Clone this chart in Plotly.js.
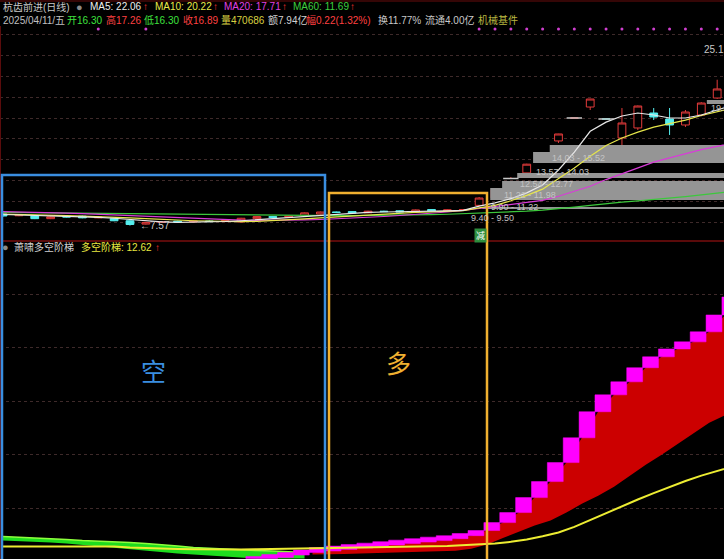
<!DOCTYPE html>
<html><head><meta charset="utf-8">
<script src="https://cdn.plot.ly/plotly-3.0.1.min.js"></script>
<style>html,body{margin:0;padding:0;background:#000;overflow:hidden}#chart{width:724px;height:559px}</style>
</head><body><div id="chart"></div>
<script>
// ---------- price panel (bars 0..45) ----------
const openP  = [8.96,8.75,8.72,8.40,8.70,8.70,8.50,8.40,8.15,7.75,7.95,8.10,8.00,8.12,8.05,8.00,8.40,8.65,8.55,8.75,8.95,9.20,9.25,9.10,9.30,9.35,9.20,9.50,9.35,9.45,10.00,10.90,13.23,13.90,15.20,17.74,20.50,21.82,20.38,18.10,19.30,21.10,20.38,19.66,20.86,22.90];
const highP  = [9.05,8.95,8.80,8.70,8.75,8.76,8.65,8.45,8.20,8.00,8.10,8.15,8.15,8.20,8.20,8.50,8.70,8.70,8.75,9.15,9.25,9.25,9.30,9.35,9.35,9.40,9.50,9.55,9.50,9.55,11.00,12.00,13.40,15.00,16.35,18.60,20.50,22.80,20.38,21.70,22.00,21.70,21.70,21.46,22.40,25.10];
const lowP   = [8.65,8.70,8.35,8.35,8.55,8.45,8.45,8.10,7.57,7.70,7.90,7.95,7.95,8.00,8.00,7.95,8.35,8.50,8.50,8.70,8.90,9.10,9.05,9.05,9.20,9.15,9.15,9.30,9.30,9.40,9.90,10.80,13.23,13.90,15.10,17.50,20.50,21.46,20.38,17.25,19.06,20.26,18.46,19.42,20.70,22.80];
const closeP = [8.72,8.85,8.40,8.62,8.60,8.50,8.60,8.15,7.70,7.95,8.05,8.00,8.10,8.05,8.15,8.45,8.65,8.55,8.70,9.10,9.20,9.15,9.10,9.30,9.25,9.20,9.45,9.35,9.45,9.50,10.88,11.90,13.23,14.95,16.30,18.58,20.50,22.78,20.38,19.90,21.94,20.62,19.66,21.22,22.30,23.99];

// moving averages (bars 0..46, last bar only partly on screen)
const ma5  = [8.90,8.85,8.75,8.68,8.62,8.58,8.55,8.45,8.28,8.12,8.02,7.96,7.98,8.02,8.06,8.15,8.28,8.40,8.52,8.68,8.85,8.98,9.08,9.15,9.20,9.22,9.26,9.30,9.34,9.40,9.90,10.30,10.80,11.50,12.45,14.25,16.40,18.90,20.00,20.74,21.10,20.86,20.50,20.50,20.86,21.46,22.06];
const ma10 = [8.95,8.92,8.88,8.82,8.76,8.70,8.65,8.60,8.50,8.40,8.30,8.22,8.15,8.10,8.06,8.05,8.08,8.15,8.25,8.38,8.50,8.62,8.75,8.86,8.95,9.05,9.15,9.22,9.30,9.36,9.70,10.00,10.55,11.20,11.95,13.20,14.50,15.90,17.20,18.10,18.80,19.40,19.80,20.25,20.80,21.25,21.70];
const ma20 = [9.25,9.22,9.18,9.12,9.06,9.00,8.92,8.85,8.76,8.66,8.56,8.47,8.40,8.33,8.27,8.22,8.20,8.20,8.22,8.25,8.30,8.37,8.45,8.55,8.66,8.78,8.90,9.04,9.20,9.38,9.60,9.85,10.10,10.35,10.60,11.10,11.70,12.30,13.10,13.80,14.50,15.20,15.70,16.20,16.70,17.10,17.50];
const ma60 = [9.15,9.13,9.11,9.09,9.07,9.05,9.02,9.00,8.97,8.95,8.92,8.90,8.88,8.86,8.84,8.82,8.80,8.78,8.77,8.76,8.75,8.76,8.77,8.78,8.79,8.80,8.84,8.88,8.93,8.99,9.08,9.15,9.22,9.30,9.42,9.58,9.78,10.00,10.22,10.40,10.55,10.70,10.88,11.05,11.25,11.50,11.69];
const signalFlag = [0,0,0,0,0,0,1,0,0,1,0,0,0,0,0,0,0,0,0,0,0,0,0,0,0,0,0,0,0,0,1,1,1,1,1,1,1,1,1,1,1,1,1,1,1,1,1];

// price gap bands
const gapStart = [30.2,30.7,31.45,32.4,33.4,34.45,44.35];
const gapLow   = [9.56,10.64,12.09,13.29,15.09,16.41,22.18];
const gapHigh  = [9.80,12.09,12.93,13.89,16.41,17.25,22.66];
const gapLabels = ["9.40 - 9.50","9.90 - 11.22","11.22 - 11.98","12.54 - 12.77","13.57 - 14.03","14.03 - 15.52","19.90 - 20.61"];

// ---------- 多空阶梯 indicator (bars 0..46) ----------
const ladderLine = [9.20,9.20,9.20,9.20,9.20,9.20,9.20,9.20,9.15,9.12,9.10,9.08,9.07,9.06,9.06,9.06,9.07,9.08,9.09,9.10,9.11,9.12,9.13,9.15,9.16,9.18,9.19,9.21,9.23,9.26,9.30,9.34,9.42,9.53,9.68,9.86,10.12,10.44,10.78,11.10,11.40,11.70,11.99,12.27,12.52,12.75,12.95];
const N = null;
const bearTop    = [9.67,9.64,9.62,9.58,9.53,9.48,9.46,9.44,9.39,9.34,9.29,9.22,9.15,9.11,9.06,9.04,9.01,8.99,8.97,8.92,N,N,N,N,N,N,N,N,N,N,N,N,N,N,N,N,N,N,N,N,N,N,N,N,N,N,N];
const bearBottom = [9.48,9.46,9.44,9.39,9.34,9.27,9.20,9.13,9.06,8.99,8.92,8.87,8.83,8.78,8.73,8.69,8.64,8.64,8.64,8.64,N,N,N,N,N,N,N,N,N,N,N,N,N,N,N,N,N,N,N,N,N,N,N,N,N,N,N];
const stairTop    = [N,N,N,N,N,N,N,N,N,N,N,N,N,N,N,N,8.73,8.83,8.92,9.04,9.15,9.22,9.29,9.36,9.43,9.50,9.57,9.64,9.71,9.81,9.95,10.32,10.79,11.49,12.24,13.13,14.29,15.51,16.30,16.91,17.57,18.08,18.45,18.78,19.25,20.04,20.88];
const stairBottom = [N,N,N,N,N,N,N,N,N,N,N,N,N,N,N,N,8.64,8.64,8.69,8.80,8.92,8.99,9.06,9.13,9.20,9.27,9.34,9.41,9.48,9.57,9.71,9.95,10.32,10.79,11.49,12.24,13.13,14.29,15.51,16.30,16.91,17.57,18.08,18.45,18.78,19.25,20.04];
const bullBase    = [N,N,N,N,N,N,N,N,N,N,N,N,N,N,N,N,N,N,N,N,8.83,8.83,8.85,8.87,8.89,8.91,8.93,8.95,8.97,9.00,9.10,9.30,9.60,9.90,10.18,10.42,10.79,11.21,11.58,12.00,12.52,13.03,13.50,14.01,14.53,15.00,15.35];

// ---------- header texts ----------
const header1 = [["杭齿前进(日线)","#c8c8c8",2],["MA5: 22.06","#eeeeee",89],["↑","#ff3030",142],["MA10: 20.22","#e8e84a",154],["↑","#ff3030",212],["MA20: 17.71","#e040e0",223],["↑","#ff3030",281],["MA60: 11.69","#3ed03e",292],["↑","#ff3030",349]];
const header2 = [["2025/04/11/五","#c0c0c0",2],["开16.30","#3ee03e",66],["高17.26","#ff4040",105],["低16.30","#3ee03e",143],["收16.89","#ff4040",182],["量470686","#d8d040",220],["额7.94亿","#d0d0d0",267],["幅0.22(1.32%)","#ff4040",305],["换11.77%","#c8c8c8",377],["流通4.00亿","#c8c8c8",424],["机械基件","#b8b840",477]];
const header3 = [["萧啸多空阶梯","#d0d0d0",13],["多空阶梯: 12.62","#e8e840",80],["↑","#ff3030",154]];

const FONT = "Liberation Sans, Noto Sans CJK SC, DejaVu Sans";
const idx = ladderLine.map((_, i) => i);
const idxC = openP.map((_, i) => i);

const traces = [];
// candles
traces.push({type:'candlestick', x:idxC, open:openP, high:highP, low:lowP, close:closeP, xaxis:'x', yaxis:'y',
  increasing:{line:{color:'#e23b3b',width:1}, fillcolor:'#000000'},
  decreasing:{line:{color:'#56eeee',width:1}, fillcolor:'#56eeee'},
  whiskerwidth:0, hoverinfo:'skip'});
// gap bands
const gx = [], gy = [];
gapStart.forEach((s, i) => { gx.push(s, 46.5, 46.5, s, s, null); gy.push(gapLow[i], gapLow[i], gapHigh[i], gapHigh[i], gapLow[i], null); });
traces.push({type:'scatter', x:gx, y:gy, mode:'lines', fill:'toself', fillcolor:'#959595', line:{width:0,color:'#959595'}, xaxis:'x', yaxis:'y', hoverinfo:'skip'});
// MAs
[[ma60,'#3cc83c'],[ma20,'#d83cd8'],[ma10,'#e6e64a'],[ma5,'#e8e8e8']].forEach(([arr,c]) => {
  traces.push({type:'scatter', x:idx, y:arr, mode:'lines', line:{color:c,width:1.2}, xaxis:'x', yaxis:'y', hoverinfo:'skip'});
});
// flat (one-price) bars
const flatX = idxC.filter(i => openP[i] === closeP[i]);
traces.push({type:'scatter', x:flatX, y:flatX.map(i => openP[i]), mode:'markers', marker:{symbol:'line-ew', size:11, line:{width:1.5,color:'#c8c8c8'}}, xaxis:'x', yaxis:'y', hoverinfo:'skip'});
// signal dots along top
const sigX = idx.filter(i => signalFlag[i] === 1);
traces.push({type:'scatter', x:sigX, y:sigX.map(() => 31.2), mode:'markers', marker:{size:3, color:'#d040d0'}, cliponaxis:false, xaxis:'x', yaxis:'y', hoverinfo:'skip'});

// bottom: bear (green) band
const bi = idx.filter(i => bearTop[i] !== null);
traces.push({type:'scatter', x:bi, y:bi.map(i => bearBottom[i]), mode:'lines', line:{width:0,color:'#1edc1e'}, xaxis:'x', yaxis:'y2', hoverinfo:'skip'});
traces.push({type:'scatter', x:bi, y:bi.map(i => bearTop[i]), mode:'lines', fill:'tonexty', fillcolor:'#1edc1e', line:{width:1.5,color:'#8cff3c'}, xaxis:'x', yaxis:'y2', hoverinfo:'skip'});
// bull (red) body
const ri = idx.filter(i => bullBase[i] !== null);
traces.push({type:'scatter', x:ri.map(i => i - 0.5), y:ri.map(i => bullBase[i]), mode:'lines', line:{width:0,color:'#cc0000'}, xaxis:'x', yaxis:'y2', hoverinfo:'skip'});
traces.push({type:'scatter', x:ri.map(i => i - 0.5), y:ri.map(i => stairBottom[i]), mode:'lines', fill:'tonexty', fillcolor:'#cc0000', line:{width:0,color:'#cc0000'}, xaxis:'x', yaxis:'y2', hoverinfo:'skip'});
// magenta ladder steps
const mx = [], my = [];
idx.forEach(i => { if (stairTop[i] !== null) { const a = i - 0.7, b = i + 0.3; mx.push(a, b, b, a, a, null); my.push(stairBottom[i], stairBottom[i], stairTop[i], stairTop[i], stairBottom[i], null); } });
traces.push({type:'scatter', x:mx, y:my, mode:'lines', fill:'toself', fillcolor:'#ff00ff', line:{width:0.5,color:'#ff00ff'}, xaxis:'x', yaxis:'y2', hoverinfo:'skip'});
// yellow ladder line
traces.push({type:'scatter', x:idx, y:ladderLine, mode:'lines', line:{color:'#ecec32',width:2}, xaxis:'x', yaxis:'y2', hoverinfo:'skip'});

// annotations
const W = 724, H = 559;
const ann = [];
function txt(px, py, text, color, size) {
  ann.push({xref:'paper', yref:'paper', x:px/W, y:1-py/H, xanchor:'left', yanchor:'middle', text:text, showarrow:false, borderpad:0, font:{color:color, size:size||10, family:FONT}});
}
header1.forEach(([t,c,x]) => txt(x, 7, t, c));
header2.forEach(([t,c,x]) => txt(x, 20, t, c));
header3.forEach(([t,c,x]) => txt(x, 247, t, c));
txt(75, 7, "●", "#8a8a8a", 11);
txt(1, 247, "●", "#8a8a8a", 11);
// gap labels
const gapLabelPos = [[29.45,8.48],[30.7,9.80],[31.5,11.25],[32.5,12.57],[33.5,14.0],[34.5,15.69],[44.55,21.7]];
gapLabels.forEach((t, i) => ann.push({xref:'x', yref:'y', x:gapLabelPos[i][0], y:gapLabelPos[i][1], xanchor:'left', yanchor:'middle', text:t, showarrow:false, borderpad:0, font:{color:'#c4c4c4', size:9, family:FONT}}));
// low / high marks
let lo = 0, hi = 0;
lowP.forEach((v, i) => { if (v < lowP[lo]) lo = i; });
highP.forEach((v, i) => { if (v > highP[hi]) hi = i; });
ann.push({xref:'x', yref:'y', x:lo + 0.55, y:lowP[lo], xanchor:'left', yanchor:'middle', text:'←' + lowP[lo].toFixed(2), showarrow:false, borderpad:0, font:{color:'#d0d0d0', size:10, family:FONT}});
txt(703, 49, highP[hi].toFixed(1), '#c8c8c8', 10);
// info mark
ann.push({xref:'paper', yref:'paper', x:480/W, y:1-235/H, xanchor:'center', yanchor:'middle', text:'减', showarrow:false, bgcolor:'#2e8e3e', borderpad:1, font:{color:'#ffffff', size:9, family:FONT}});
// zone words
ann.push({xref:'paper', yref:'paper', x:153/W, y:1-370/H, xanchor:'center', yanchor:'middle', text:'空', showarrow:false, font:{color:'#3a8ee0', size:25, family:'Noto Sans CJK SC'}});
ann.push({xref:'paper', yref:'paper', x:398/W, y:1-362/H, xanchor:'center', yanchor:'middle', text:'多', showarrow:false, font:{color:'#f0b030', size:25, family:'Noto Sans CJK SC'}});

const shapes = [
  {type:'line', xref:'paper', yref:'paper', x0:0, x1:1, y0:1-1/H, y1:1-1/H, line:{color:'#6a0c0c', width:1}},
  {type:'line', xref:'paper', yref:'paper', x0:0, x1:1, y0:1-241/H, y1:1-241/H, line:{color:'#780e0e', width:1.5}},
  {type:'line', xref:'paper', yref:'paper', x0:0.5/W, x1:0.5/W, y0:0, y1:1-26/H, line:{color:'#5a0c0c', width:1}},
  {type:'rect', xref:'paper', yref:'paper', x0:2/W, x1:325/W, y0:-0.02, y1:1-175/H, line:{color:'#3a8ee0', width:2.5}},
  {type:'rect', xref:'paper', yref:'paper', x0:329/W, x1:487/W, y0:-0.02, y1:1-193/H, line:{color:'#f0b030', width:2.5}}
];

const grid = {showgrid:true, gridcolor:'#3e2a2a', griddash:'dot', gridwidth:1, zeroline:false, showticklabels:false, ticks:'', showline:false, tickmode:'linear', dtick:2.5, fixedrange:true};
const layout = {
  width:W, height:H, margin:{l:0,r:0,t:0,b:0,pad:0},
  paper_bgcolor:'#000000', plot_bgcolor:'#000000', showlegend:false,
  xaxis:{range:[-0.19,45.43], showgrid:false, zeroline:false, showticklabels:false, ticks:'', showline:false, rangeslider:{visible:false}, fixedrange:true, anchor:'y2'},
  yaxis:Object.assign({domain:[1-241/H, 1-26/H], range:[5.716,31.558], tick0:8, anchor:'x'}, grid),
  yaxis2:Object.assign({domain:[0, 1-256/H], range:[8.617,22.799], tick0:11, anchor:'x'}, grid),
  annotations:ann, shapes:shapes, hovermode:false
};
Plotly.newPlot('chart', traces, layout, {staticPlot:true, displayModeBar:false});
</script>
</body></html>
